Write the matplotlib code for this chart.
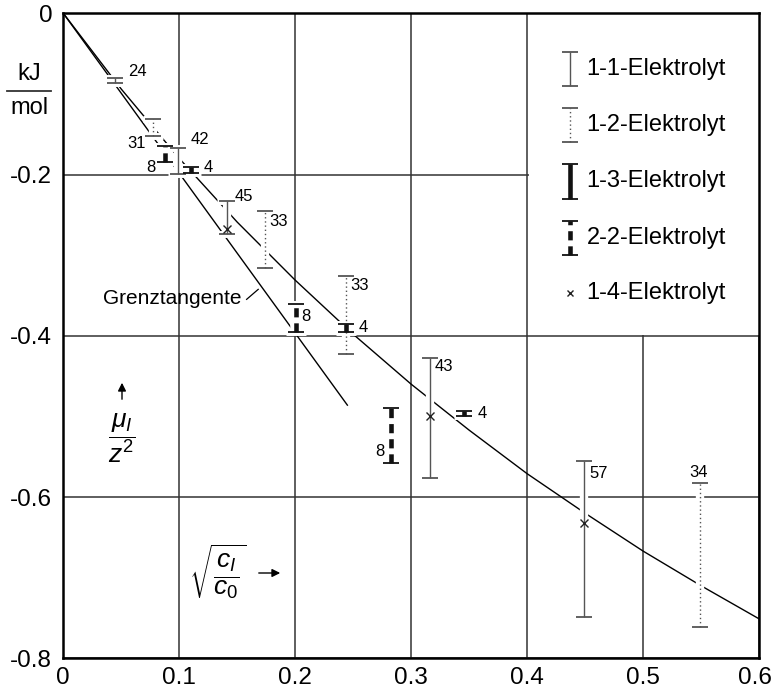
import matplotlib
matplotlib.use('Agg')
import matplotlib.pyplot as plt
import matplotlib.transforms as mtransforms
from matplotlib.patches import Rectangle
from matplotlib.lines import Line2D

plt.rcParams['font.family'] = ['Liberation Sans', 'DejaVu Sans']
plt.rcParams['mathtext.fontset'] = 'custom'
plt.rcParams['mathtext.rm'] = 'Liberation Sans'
plt.rcParams['mathtext.it'] = 'Liberation Sans:italic'
plt.rcParams['mathtext.sf'] = 'Liberation Sans'
plt.rcParams['axes.unicode_minus'] = False

# Kurve
kurve_x = [0.0, 0.05, 0.1, 0.15, 0.2, 0.25, 0.3, 0.35, 0.4, 0.45, 0.5, 0.55, 0.6]
kurve_y = [0.0, -0.094, -0.180, -0.259, -0.331, -0.398, -0.460, -0.517, -0.571, -0.620, -0.667, -0.710, -0.751]

# Grenztangente
tangente_x = [0.0, 0.245]
tangente_y = [0.0, -0.486]

# Messbereiche
mess_x = [0.045, 0.077, 0.088, 0.099, 0.110, 0.141, 0.174, 0.201, 0.244, 0.244, 0.316, 0.346, 0.283, 0.449, 0.549]
mess_oben = [-0.0806, -0.131, -0.165, -0.1675, -0.191, -0.2325, -0.245, -0.360, -0.326, -0.385, -0.427, -0.4934, -0.489, -0.5555, -0.582]
mess_unten = [-0.0861, -0.152, -0.185, -0.1994, -0.198, -0.2738, -0.316, -0.395, -0.422, -0.395, -0.576, -0.4996, -0.558, -0.7486, -0.761]
mess_typ = ['1-1', '1-2', '2-2', '1-1', '1-3', '1-1', '1-2', '2-2', '1-2', '1-3', '1-1', '1-3', '2-2', '1-1', '1-2']
mess_n = ['24', '31', '8', '42', '4', '45', '33', '8', '33', '4', '43', '4', '8', '57', '34']

# 1-4-Elektrolyt
punkt_x = [0.141, 0.316, 0.449]
punkt_y = [-0.268, -0.4996, -0.6328]

legende = ['1-1-Elektrolyt', '1-2-Elektrolyt', '1-3-Elektrolyt', '2-2-Elektrolyt', '1-4-Elektrolyt']
xticks = [0, 0.1, 0.2, 0.3, 0.4, 0.5, 0.6]
xlabels = ['0', '0.1', '0.2', '0.3', '0.4', '0.5', '0.6']
yticks = [0, -0.2, -0.4, -0.6, -0.8]
ylabels = ['0', '-0.2', '-0.4', '-0.6', '-0.8']

# Stil je Elektrolyttyp
stil = {
    '1-1': dict(color='#555555', lw=1.0, ls='-'),
    '1-2': dict(color='#555555', lw=1.0, ls=(0, (1, 2))),
    '1-3': dict(color='#111111', lw=3.3, ls='-'),
    '2-2': dict(color='#111111', lw=3.3, ls=(0, (2, 1.3))),
}

# Position der Zahlen (Daten-Koordinaten, Ausrichtung)
zahl_pos = [(0.056, -0.0725, 'left'), (0.0713, -0.1613, 'right'), (0.0797, -0.191, 'right'),
            (0.1098, -0.156, 'left'), (0.1207, -0.191, 'left'), (0.148, -0.2267, 'left'),
            (0.1776, -0.2577, 'left'), (0.2055, -0.3764, 'left'), (0.2478, -0.3371, 'left'),
            (0.2543, -0.390, 'left'), (0.3204, -0.4385, 'left'), (0.3569, -0.4963, 'left'),
            (0.2773, -0.544, 'right'), (0.4534, -0.5707, 'left'), (0.5483, -0.5695, 'center')]


def balken(ax, x, oben, unten, typ):
    s = stil[typ]
    # weisser Hintergrund (unterbricht Linien)
    ax.errorbar([x], [(oben + unten) / 2], yerr=[[(oben - unten) / 2]], fmt='none',
                ecolor='white', elinewidth=s['lw'] + 5, capsize=7.5, capthick=5, zorder=2.5)
    eb = ax.errorbar([x], [(oben + unten) / 2], yerr=[[(oben - unten) / 2]], fmt='none',
                     ecolor=s['color'], elinewidth=s['lw'], capsize=5.5, capthick=1.3, zorder=3)
    eb[2][0].set_linestyle(s['ls'])


fig = plt.figure(figsize=(7.73, 6.89), dpi=100)
ax = fig.add_axes([63.3 / 773, 1 - 658.3 / 689, (759 - 63.3) / 773, (658.3 - 13.3) / 689])

ax.set_xlim(0, 0.6)
ax.set_ylim(-0.8, 0)
ax.set_xticks(xticks)
ax.set_xticklabels(xlabels)
ax.set_yticks(yticks)
ax.set_yticklabels(ylabels)
ax.tick_params(length=0, labelsize=17.5)
ax.tick_params(axis='y', pad=8)
ax.tick_params(axis='x', pad=6)
ax.grid(True, color='#333333', lw=1.1)
ax.set_axisbelow(True)
for sp in ax.spines.values():
    sp.set_linewidth(1.8)

# letzte Beschriftung etwas nach links, damit sie nicht abgeschnitten wird
lbl = ax.get_xticklabels()[-1]
lbl.set_transform(lbl.get_transform() + mtransforms.ScaledTranslation(-4 / 100, 0, fig.dpi_scale_trans))

# Legendenfeld
ax.add_patch(Rectangle((0.4015, -0.3985), 0.2, 0.3985, facecolor='white', edgecolor='none', zorder=1))

ax.plot(kurve_x, kurve_y, color='black', lw=1.0, zorder=2)
ax.plot(tangente_x, tangente_y, color='black', lw=1.0, zorder=2)

for x, o, u, t in zip(mess_x, mess_oben, mess_unten, mess_typ):
    balken(ax, x, o, u, t)

ax.plot(punkt_x, punkt_y, 'x', color='#222222', ms=5.5, mew=1.0, zorder=4)

for n, (tx, ty, ha) in zip(mess_n, zahl_pos):
    ax.text(tx, ty, n, fontsize=12, ha=ha, va='center', zorder=5)

# Legende
leg_y = [-0.0689, -0.1385, -0.2086, -0.2783, -0.3474]
for i, (name, y) in enumerate(zip(legende, leg_y)):
    if i < 4:
        balken(ax, 0.4368, y + 0.0213, y - 0.0213, ['1-1', '1-2', '1-3', '2-2'][i])
    else:
        ax.plot([0.4368], [y], 'x', color='#222222', ms=4.5, mew=1.0, zorder=4)
    ax.text(0.4512, y, name, fontsize=17, va='center', ha='left', zorder=5)

# Grenztangente
ax.text(0.154, -0.3532, 'Grenztangente', fontsize=15, ha='right', va='center')
ax.plot([0.1581, 0.1681], [-0.3548, -0.3424], color='black', lw=0.9)

# Achsenbeschriftungen
H = 689
fig.text(29 / 773, 1 - 74 / H, 'kJ', fontsize=17, ha='center', va='center')
fig.add_artist(Line2D([7 / 773, 51 / 773], [1 - 90.7 / H, 1 - 90.7 / H], color='#333333', lw=1.3))
fig.text(29 / 773, 1 - 108 / H, 'mol', fontsize=17, ha='center', va='center')

fig.text(122 / 773, 1 - 438 / H, r'$\dfrac{\mu_I}{z^2}$', fontsize=19, ha='center', va='center')
ax.annotate('', xy=(122, H - 380), xytext=(122, H - 402), xycoords='figure pixels',
            arrowprops=dict(arrowstyle='-|>', color='black', lw=1.0, mutation_scale=12))

fig.text(218 / 773, 1 - 572 / H, r'$\sqrt{\dfrac{c_I}{c_0}}$', fontsize=19, ha='center', va='center')
ax.annotate('', xy=(283, H - 573), xytext=(256, H - 573), xycoords='figure pixels',
            arrowprops=dict(arrowstyle='-|>', color='black', lw=1.0, mutation_scale=12))

fig.savefig('out.png', dpi=100)
